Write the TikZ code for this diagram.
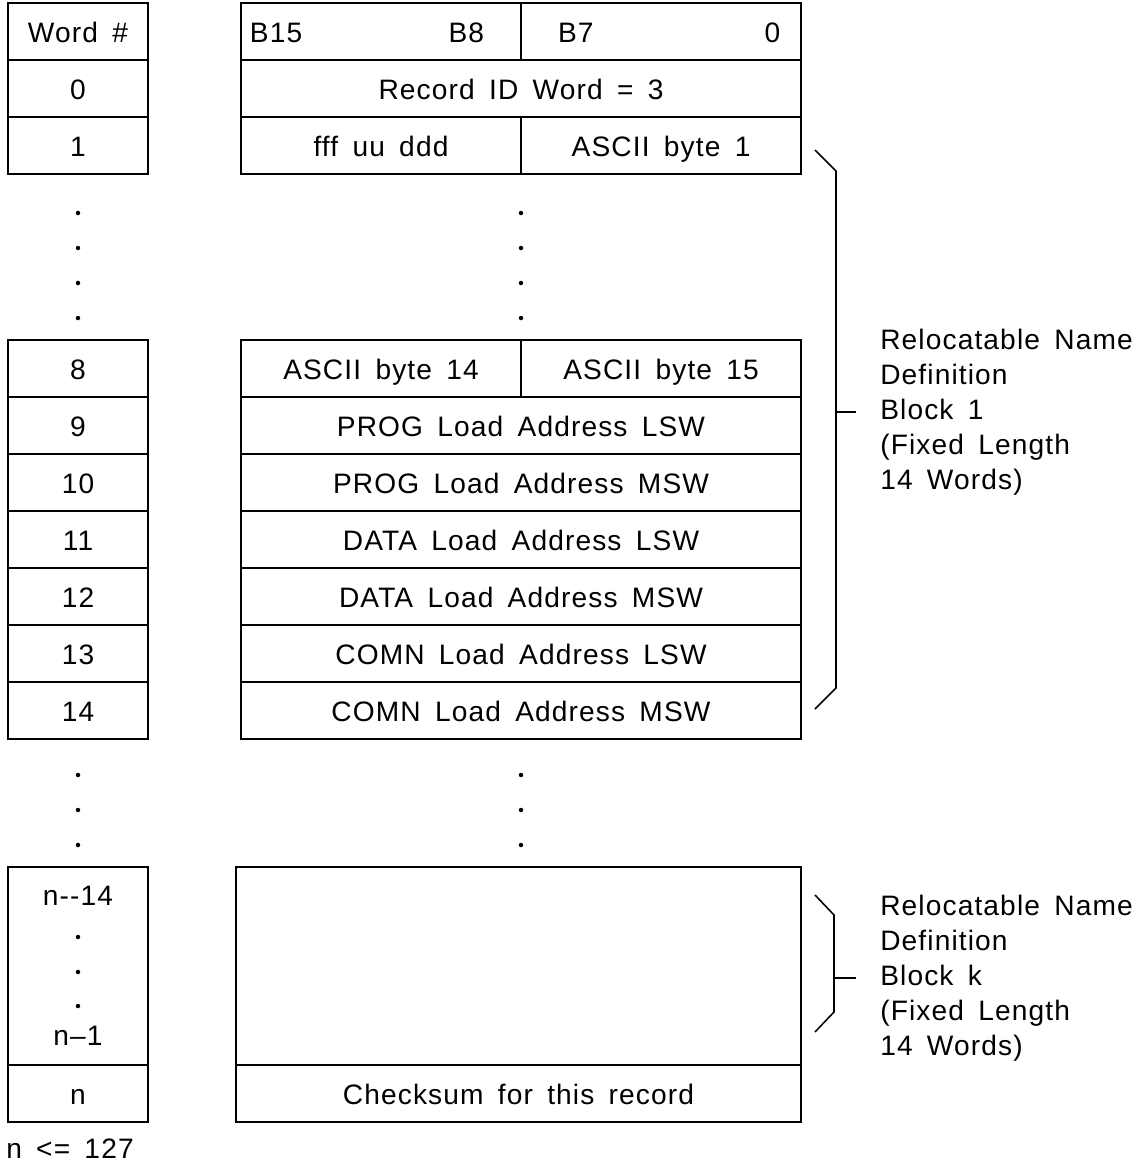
\documentclass[tikz,border=0pt]{standalone}
\usepackage{fontspec}
\setmainfont{Liberation Sans}[LetterSpace=4,WordSpace=1.6]
\usetikzlibrary{positioning}

\tikzset{
  cell/.style={draw, line width=1.1pt, inner sep=0pt, outer sep=0pt, minimum height=1.425cm},
  numcell/.style={cell, minimum width=3.5cm},
  fullcell/.style={cell, minimum width=14cm},
  halfcell/.style={cell, minimum width=7cm},
  vdot/.style={circle, fill, inner sep=0pt, minimum size=3.2pt, text height=, text depth=},
  bracket/.style={line width=1.1pt},
  note/.style={align=left, anchor=west, inner sep=0pt, text height=, text depth=}
}

\begin{document}
\begin{tikzpicture}[x=0.025cm,y=-0.025cm,font=\fontsize{20}{24.9}\selectfont,
  every node/.append style={text height=16.5pt, text depth=1.5pt}]
\path[use as bounding box] (0,0) rectangle (1145,1165);
% word numbers
\node[numcell] (wh) at (78,31.5) {Word \#};
\node[numcell] (w0) at (78,88.5) {0};
\node[numcell] (w1) at (78,145.5) {1};
\node[vdot] (wd1) at (78,213) {};
\node[vdot] (wd2) at (78,248) {};
\node[vdot] (wd3) at (78,283) {};
\node[vdot] (wd4) at (78,318) {};
\node[numcell] (w8) at (78,368.5) {8};
\node[numcell] (w9) at (78,425.5) {9};
\node[numcell] (w10) at (78,482.5) {10};
\node[numcell] (w11) at (78,539.5) {11};
\node[numcell] (w12) at (78,596.5) {12};
\node[numcell] (w13) at (78,653.5) {13};
\node[numcell] (w14) at (78,710.5) {14};
\node[vdot] (wd5) at (78,775) {};
\node[vdot] (wd6) at (78,810) {};
\node[vdot] (wd7) at (78,845) {};
\node[numcell, minimum height=4.95cm] (wk) at (78,966) {};
\node (wk1) at (78,895) {n-{}-14};
\node[vdot] (wd8) at (78,937) {};
\node[vdot] (wd9) at (78,972) {};
\node[vdot] (wd10) at (78,1006) {};
\node (wk2) at (78,1035) {n--1};
\node[numcell] (wn) at (78,1093.5) {n};
\node[anchor=west, inner sep=0pt] (wmax) at (6,1148) {n <= 127};
% record fields
\node[halfcell] (fhhi) at (381,31.5) {};
\node[halfcell, right=0pt of fhhi] (fhlo) {};
\node[anchor=west] (b15) at ([xshift=0.1cm]fhhi.west) {B15};
\node[anchor=east] (b8) at ([xshift=-0.8cm]fhhi.east) {B8};
\node[anchor=west] (b7) at ([xshift=0.8cm]fhlo.west) {B7};
\node[anchor=east] (b0) at ([xshift=-0.4cm]fhlo.east) {0};
\node[fullcell] (f0) at (521,88.5) {Record ID Word = 3};
\node[halfcell] (f1hi) at (381,145.5) {fff uu ddd};
\node[halfcell, right=0pt of f1hi] (f1lo) {ASCII byte 1};
\node[vdot] (fd1) at (521,213) {};
\node[vdot] (fd2) at (521,248) {};
\node[vdot] (fd3) at (521,283) {};
\node[vdot] (fd4) at (521,318) {};
\node[halfcell] (f8hi) at (381,368.5) {ASCII byte 14};
\node[halfcell, right=0pt of f8hi] (f8lo) {ASCII byte 15};
\node[fullcell] (f9) at (521,425.5) {PROG Load Address LSW};
\node[fullcell] (f10) at (521,482.5) {PROG Load Address MSW};
\node[fullcell] (f11) at (521,539.5) {DATA Load Address LSW};
\node[fullcell] (f12) at (521,596.5) {DATA Load Address MSW};
\node[fullcell] (f13) at (521,653.5) {COMN Load Address LSW};
\node[fullcell] (f14) at (521,710.5) {COMN Load Address MSW};
\node[vdot] (fd5) at (521,775) {};
\node[vdot] (fd6) at (521,810) {};
\node[vdot] (fd7) at (521,845) {};
\node[cell, minimum width=14.125cm, minimum height=4.95cm] (fk) at (518.5,966) {};
\node[cell, minimum width=14.125cm] (fn) at (518.5,1093.5) {Checksum for this record};
% brackets
\draw[bracket] (815,150) -- (836,171) -- (836,688) -- (815,709);
\draw[bracket] (836,412) -- (856,412);
\node[note] (blk1) at (880,412) {Relocatable Name\\Definition\\Block 1\\(Fixed Length\\14 Words)};
\draw[bracket] (815,895) -- (834,915) -- (834,1012) -- (815,1032);
\draw[bracket] (834,978) -- (856,978);
\node[note] (blkk) at (880,978) {Relocatable Name\\Definition\\Block k\\(Fixed Length\\14 Words)};
\end{tikzpicture}
\end{document}
